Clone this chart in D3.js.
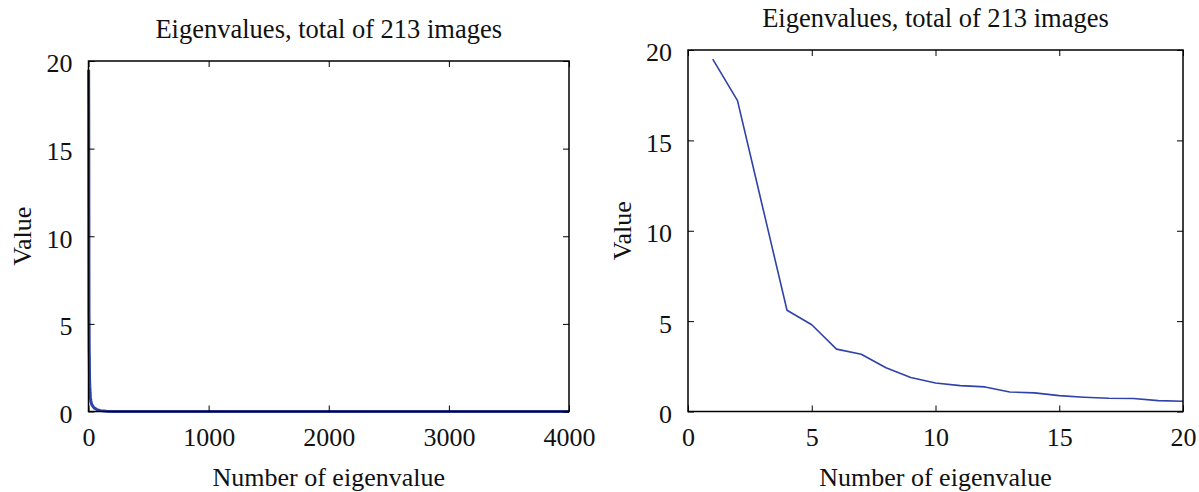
<!DOCTYPE html>
<html><head><meta charset="utf-8">
<script src="https://cdn.jsdelivr.net/npm/d3@7"></script>
<style>
body{margin:0;background:#fff;}
svg text{font-family:"Liberation Serif","DejaVu Serif",serif !important;fill:#111;}
</style></head>
<body><svg id="c" width="1199" height="492"></svg>
<script>
// Data
const titleText = "Eigenvalues, total of 213 images";
const xLabelText = "Number of eigenvalue";
const yLabelText = "Value";
const zoomIdx = [1,2,3,4,5,6,7,8,9,10,11,12,13,14,15,16,17,18,19,20];
const zoomVals = [19.5,17.2,11.4,5.6,4.8,3.45,3.17,2.42,1.88,1.58,1.43,1.36,1.08,1.03,0.88,0.79,0.73,0.72,0.6,0.57];
const tailIdx = [25,30,40,50,70,100,150,213,1000,2000,3000,4000];
const tailVals = [0.45,0.36,0.26,0.19,0.11,0.05,0.02,0,0,0,0,0];
const leftXTicks = [0,1000,2000,3000,4000];
const rightXTicks = [0,5,10,15,20];
const yTicks = [0,5,10,15,20];

const svg = d3.select("#c");
const lineColor = "#2f42aa";
const FONT = '"Liberation Serif","DejaVu Serif",serif';

function panel(cfg){
  const {x0,x1,y0,y1,xDomain,xTicks,data,stroke,titleY,xLabelY,yLabelX} = cfg;
  const x = d3.scaleLinear().domain(xDomain).range([x0,x1]);
  const y = d3.scaleLinear().domain([0,20]).range([y1,y0]);
  const g = svg.append("g");
  g.append("path").datum(data)
    .attr("fill","none").attr("stroke",lineColor).attr("stroke-width",stroke)
    .attr("stroke-linejoin","round")
    .attr("d", d3.line().x(d=>x(d[0])).y(d=>y(d[1])));
  g.append("rect").attr("x",x0).attr("y",y0).attr("width",x1-x0).attr("height",y1-y0)
    .attr("fill","none").attr("stroke","#000").attr("stroke-width",1.5);
  const tl = 6;
  const fmt = d3.format("d");
  const bottom = d3.axisBottom(x).tickValues(xTicks).tickSize(-tl).tickPadding(tl+10).tickFormat(fmt);
  const top = d3.axisTop(x).tickValues(xTicks).tickSize(-tl).tickFormat("");
  const left = d3.axisLeft(y).tickValues(yTicks).tickSize(-tl).tickPadding(tl+10).tickFormat(fmt);
  const right = d3.axisRight(y).tickValues(yTicks).tickSize(-tl).tickFormat("");
  const style = sel => {
    sel.attr("font-family",FONT);
    sel.select(".domain").remove();
    sel.selectAll(".tick line").attr("stroke","#000").attr("stroke-width",1);
    sel.selectAll(".tick text").attr("font-size",26).attr("fill","#111");
  };
  g.append("g").attr("transform",`translate(0,${y1})`).call(bottom).call(style);
  g.append("g").attr("transform",`translate(0,${y0})`).call(top).call(style);
  const gl = g.append("g").attr("transform",`translate(${x0},0)`).call(left).call(style);
  gl.selectAll(".tick text").attr("dy","0.42em");
  g.append("g").attr("transform",`translate(${x1},0)`).call(right).call(style);
  const cx = (x0+x1)/2;
  g.append("text").attr("x",cx).attr("y",titleY).attr("text-anchor","middle").attr("font-size",26.5).attr("font-family",FONT).text(titleText);
  g.append("text").attr("x",cx).attr("y",xLabelY).attr("text-anchor","middle").attr("font-size",26).attr("font-family",FONT).text(xLabelText);
  g.append("text").attr("transform",`translate(${yLabelX},${(y0+y1)/2}) rotate(-90)`)
    .attr("text-anchor","middle").attr("font-size",26).attr("font-family",FONT).text(yLabelText);
}

const zoomData = zoomIdx.map((d,i)=>[d,zoomVals[i]]);
const fullData = zoomData.concat(tailIdx.map((d,i)=>[d,tailVals[i]]));

panel({x0:88.5,x1:569,y0:61,y1:411.5,xDomain:[0,4000],xTicks:leftXTicks,data:fullData,stroke:3,
  titleY:38,xLabelY:486,yLabelX:31});
panel({x0:688,x1:1183,y0:50,y1:411.5,xDomain:[0,20],xTicks:rightXTicks,data:zoomData,stroke:1.6,
  titleY:27,xLabelY:486,yLabelX:631});
</script></body></html>
